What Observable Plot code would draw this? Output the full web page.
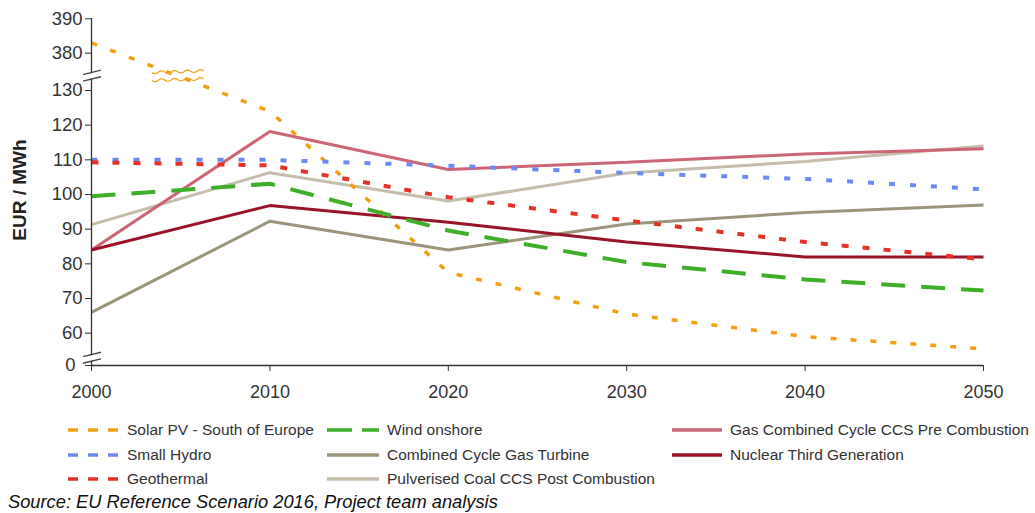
<!DOCTYPE html>
<html>
<head>
<meta charset="utf-8">
<script src="https://cdn.jsdelivr.net/npm/d3@7"></script>
<script src="https://cdn.jsdelivr.net/npm/@observablehq/plot@0.6"></script>
<style>
  body { margin: 0; background: #fff; font-family: "Liberation Sans", Arial, sans-serif; }
  #wrap { position: relative; width: 1035px; height: 513px; overflow: hidden; background: #fff; }
  #chart { position: absolute; left: 0; top: 0; }
  .lg { position: absolute; display: flex; align-items: center; height: 20px; font-size: 15.5px; color: #333; white-space: nowrap; }
  .lg svg { display: block; }
  .lg span { position: absolute; }
  #src { position: absolute; left: 8px; top: 491px; line-height: 22px; font-size: 18.3px; font-style: italic; color: #111; white-space: nowrap; }
</style>
</head>
<body>
<div id="wrap">
  <div id="chart"></div>
  <div id="legend"></div>
  <div id="src">Source: EU Reference Scenario 2016, Project team analysis</div>
</div>
<script>
// ---------- data ----------
const years = [2000, 2010, 2020, 2030, 2040, 2050];
const seriesNames = [
  "Solar PV - South of Europe",
  "Small Hydro",
  "Geothermal",
  "Wind onshore",
  "Combined Cycle Gas Turbine",
  "Pulverised Coal CCS Post Combustion",
  "Gas Combined Cycle CCS Pre Combustion",
  "Nuclear Third Generation"
];
const solarPV     = [383, 124, 77.5, 65.5, 59, 55.5];
const smallHydro  = [110, 110, 108.3, 106.2, 104.5, 101.5];
const geothermal  = [109.3, 108.4, 99.2, 92.5, 86.3, 81.3];
const windOnshore = [99.5, 103.1, 89.6, 80.5, 75.5, 72.3];
const ccgt        = [66, 92.3, 84, 91.5, 94.8, 97];
const coalCCS     = [91.3, 106.3, 98.1, 106.2, 109.5, 114];
const gasCCSPre   = [84, 118.2, 107.2, 109.3, 111.7, 113.2];
const nuclear     = [84, 96.8, 92, 86.3, 82, 82];
const seriesValues = [solarPV, smallHydro, geothermal, windOnshore, ccgt, coalCCS, gasCCSPre, nuclear];
const yTicks = [60, 70, 80, 90, 100, 110, 120, 130, 380, 390];
const yZeroTick = [0];
const yLabel = "EUR / MWh";

// ---------- styles ----------
const seriesColors = ["#f0a010", "#6b8af2", "#e53228", "#3fae29", "#9c957d", "#c6beac", "#cc6677", "#98142a"];
const seriesDash   = ["6,14", "6,15", "7,14", "24,16", null, null, null, null];
const seriesWidth  = [3.5, 4, 4, 4, 3, 3, 3, 3];
const legendDash   = ["10,10", "10,10", "10,10", "25,10", null, null, null, null];
const legendCol    = [0, 0, 0, 1, 1, 1, 2, 2];
const legendRow    = [0, 1, 2, 0, 1, 2, 0, 1];

// piecewise (broken) y scale
const yDomain = [0, 54, 130, 377.5, 390];
const yRange  = [365, 353.5, 90, 61.3, 18.3];

const table = [];
seriesNames.forEach((name, i) => {
  years.forEach((yr, j) => table.push({series: name, year: yr, value: seriesValues[i][j]}));
});

const drawOrder = [4, 5, 6, 7, 0, 1, 2, 3];
const lineMarks = drawOrder.map(i => Plot.line(table.filter(d => d.series === seriesNames[i]), {
  x: "year", y: "value",
  stroke: seriesColors[i],
  strokeWidth: seriesWidth[i],
  strokeDasharray: seriesDash[i] || undefined,
  strokeLinejoin: "miter",
  strokeLinecap: "butt"
}));

const chart = Plot.plot({
  width: 1035,
  height: 410,
  marginLeft: 91,
  marginRight: 52,
  marginTop: 18,
  marginBottom: 45,
  style: {fontSize: "18px", fontFamily: "'Liberation Sans', Arial, sans-serif", color: "#333", background: "#fff"},
  x: {type: "linear", domain: [years[0], years[years.length - 1]]},
  y: {type: "linear", domain: yDomain, range: yRange},
  marks: [
    ...lineMarks,
    Plot.ruleX([years[0]], {stroke: "#333", strokeWidth: 1.3}),
    Plot.ruleY([0], {stroke: "#333", strokeWidth: 1.3}),
    Plot.axisX({ticks: years, tickFormat: d => String(d), tickSize: 6, tickPadding: 14, label: null, stroke: "#333"}),
    Plot.axisY({ticks: yTicks, tickSize: 6, tickPadding: 3, label: null, stroke: "#333", fontSize: 18.5}),
    Plot.axisY({ticks: yZeroTick, tickSize: 6, tickPadding: 10, label: null, stroke: "#333", fontSize: 18.5})
  ]
});
document.getElementById("chart").appendChild(chart);

// ---------- axis breaks and decorations ----------
const svg = d3.select(chart);
const ys = chart.scale("y"), xs = chart.scale("x");
const x0 = xs.apply(years[0]);
const gapCenters = [
  (ys.apply(yDomain[0]) + ys.apply(yDomain[1])) / 2 - 1.5,
  (ys.apply(yDomain[2]) + ys.apply(yDomain[3])) / 2
];
gapCenters.forEach(cy => {
  svg.append("path")
    .attr("d", `M${x0 - 8},${cy + 2.2} L${x0 + 10},${cy - 2.2}`)
    .attr("stroke", "#fff").attr("stroke-width", 5).attr("fill", "none");
  [-3.3, 3.3].forEach(off => {
    svg.append("path")
      .attr("d", `M${x0 - 8},${cy + 2.2 + off} L${x0 + 10},${cy - 2.2 + off}`)
      .attr("stroke", "#444").attr("stroke-width", 1.3).attr("fill", "none");
  });
});

// squiggle on solar line where it crosses the upper break
{
  const cy = gapCenters[1];
  const p0 = [xs.apply(years[0]), ys.apply(solarPV[0])];
  const p1 = [xs.apply(years[1]), ys.apply(solarPV[1])];
  const t = (cy - p0[1]) / (p1[1] - p0[1]);
  const cx = p0[0] + t * (p1[0] - p0[0]);
  [-4, 4].forEach(off => {
    const pts = d3.range(-26, 26.5, 1).map(u => [cx + u, cy + off - u * 0.03 + 1.3 * Math.sin(u * 2 * Math.PI / 13)]);
    svg.append("path").attr("d", d3.line()(pts))
      .attr("stroke", seriesColors[0]).attr("stroke-width", 1.2).attr("fill", "none");
  });
}

// y label
svg.append("text")
  .attr("transform", `translate(26,190) rotate(-90)`)
  .attr("text-anchor", "middle")
  .attr("font-weight", "bold")
  .attr("font-size", 19)
  .attr("fill", "#222")
  .text(yLabel);

// ---------- legend ----------
const colX = [68, 327, 672];
const colTextX = [127, 387, 730];
const rowY = [430, 454.5, 478.5];
const legend = document.getElementById("legend");
seriesNames.forEach((name, i) => {
  const c = legendCol[i], r = legendRow[i];
  const div = document.createElement("div");
  div.className = "lg";
  div.style.left = colX[c] + "px";
  div.style.top = (rowY[r] - 10) + "px";
  const w = colTextX[c] - colX[c] - 8;
  const s = d3.create("svg").attr("width", w).attr("height", 20);
  s.append("line").attr("x1", 0).attr("x2", w).attr("y1", 10).attr("y2", 10)
    .attr("stroke", seriesColors[i]).attr("stroke-width", 3.5)
    .attr("stroke-dasharray", legendDash[i] || null);
  div.appendChild(s.node());
  const sp = document.createElement("span");
  sp.textContent = name;
  sp.style.left = (colTextX[c] - colX[c]) + "px";
  div.appendChild(sp);
  legend.appendChild(div);
});
</script>
</body>
</html>
